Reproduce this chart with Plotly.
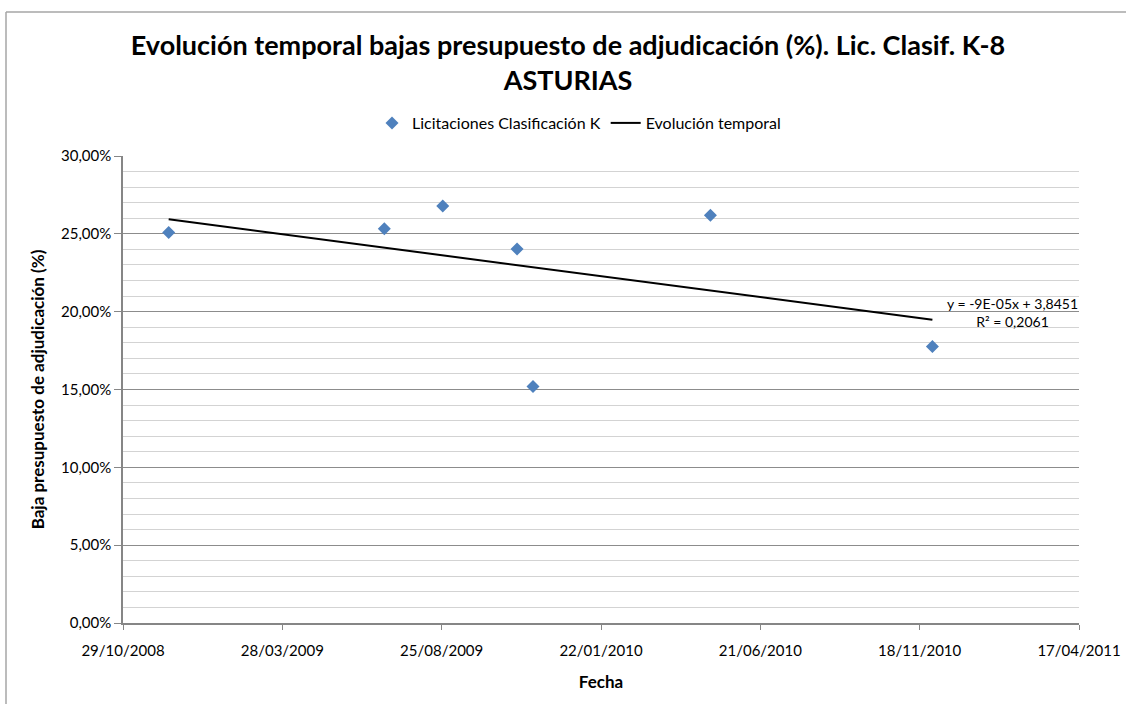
import numpy as np
import pandas as pd
import plotly.graph_objects as go

# ---- data ----
fechas = ["2008-12-11", "2009-07-02", "2009-08-26", "2009-11-04",
          "2009-11-19", "2010-05-05", "2010-11-30"]
bajas = [0.2508, 0.2532, 0.2678, 0.2402, 0.1519, 0.2620, 0.1776]
x_ticks_start = "2008-10-29"
x_range_end = "2011-04-17"
serie_nombre = "Licitaciones Clasificación K"
tendencia_nombre = "Evolución temporal"
ecuacion = "y = -9E-05x + 3,8451<br>R² = 0,2061"

# ---- linear trend computed from the data ----
dt = pd.to_datetime(fechas)
dias = (dt - pd.Timestamp(x_ticks_start)).days.values.astype(float)
m, b = np.polyfit(dias, np.array(bajas), 1)
tr_x = [dt.min(), dt.max()]
tr_y = [m * dias.min() + b, m * dias.max() + b]

W, H = 1126, 704
L, R, T, B = 123, 47, 156, 81
pw, ph = W - L - R, H - T - B

def px_x(p):
    return (p - L) / pw

def px_y(p):
    return (H - B - p) / ph

FONT = "Lato, Calibri, Carlito, sans-serif"

fig = go.Figure()
fig.add_trace(go.Scatter(
    x=dt, y=bajas, mode="markers", name=serie_nombre,
    marker=dict(symbol="diamond", size=10, color="#4F81BD"),
))
fig.add_trace(go.Scatter(
    x=tr_x, y=tr_y, mode="lines", name=tendencia_nombre,
    line=dict(color="black", width=2),
))

fig.update_layout(
    width=W, height=H,
    margin=dict(l=L, r=R, t=T, b=B, autoexpand=False),
    paper_bgcolor="white", plot_bgcolor="white",
    separators=",.",
    font=dict(family=FONT, size=15, color="black"),
    title=dict(
        text="<b>Evolución temporal bajas presupuesto de adjudicación (%). Lic. Clasif. K-8<br>ASTURIAS</b>",
        x=568 / W, xanchor="center", y=1 - 55 / H, yanchor="middle",
        font=dict(family=FONT, size=27, color="black"),
    ),
    legend=dict(
        orientation="h", x=579 / W, xanchor="center", xref="container",
        y=1 - 123 / H, yanchor="middle", yref="container",
        font=dict(family=FONT, size=16, color="black"),
        itemwidth=30, tracegroupgap=0,
    ),
    showlegend=True,
)

fig.update_xaxes(
    type="date",
    range=[x_ticks_start, x_range_end],
    tick0=x_ticks_start, dtick=150 * 86400000,
    tickformat="%d/%m/%Y",
    showgrid=False, zeroline=False, automargin=False,
    showline=True, linecolor="#868686", linewidth=2,
    ticks="outside", ticklen=5, tickcolor="#868686", tickwidth=1,
    ticklabelstandoff=8,
    tickfont=dict(family=FONT, size=15, color="black"),
    title=dict(text="<b>Fecha</b>", font=dict(family=FONT, size=17, color="black"), standoff=18),
)
fig.update_yaxes(
    range=[0, 0.30], dtick=0.05, tickformat=".2%",
    showgrid=True, gridcolor="#8c8c8c", gridwidth=1,
    zeroline=False, automargin=False,
    showline=True, linecolor="#868686", linewidth=1.5,
    ticks="outside", ticklen=7, tickcolor="#868686", tickwidth=1,
    tickfont=dict(family=FONT, size=15, color="black"),
    minor=dict(dtick=0.01, showgrid=True, gridcolor="#d3d3d3", gridwidth=1, ticks=""),
    title=dict(text="<b>Baja presupuesto de adjudicación (%)</b>",
               font=dict(family=FONT, size=17, color="black"), standoff=12),
)

fig.add_annotation(
    text=ecuacion, xref="paper", yref="paper",
    x=px_x(1012), y=px_y(312), xanchor="center", yanchor="middle",
    showarrow=False, align="center",
    font=dict(family=FONT, size=14, color="black"),
)

# outer chart border (only top and left edges visible in reference)
fig.add_shape(type="line", xref="paper", yref="paper",
              x0=px_x(6), x1=px_x(W + 10), y0=px_y(12), y1=px_y(12),
              line=dict(color="#a6a6a6", width=1.5))
fig.add_shape(type="line", xref="paper", yref="paper",
              x0=px_x(6), x1=px_x(6), y0=px_y(12), y1=px_y(H + 10),
              line=dict(color="#a6a6a6", width=1.5))

fig.write_html("out.html", config={"displayModeBar": False},
               post_script="document.body.style.margin='0';")
